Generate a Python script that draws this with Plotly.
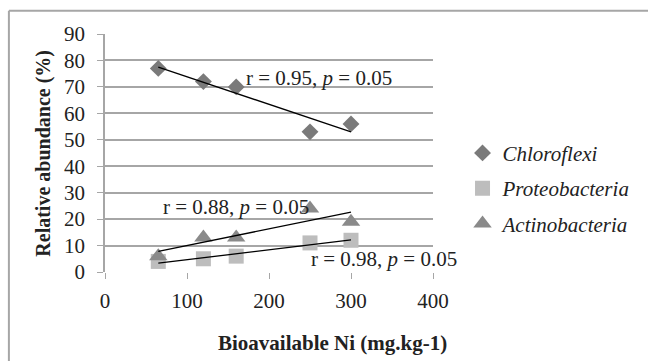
import numpy as np
import plotly.graph_objects as go

ni = [65, 120, 160, 250, 300]
chloroflexi = [77, 72, 70, 53, 56]
proteobacteria = [4, 5, 6, 11, 12]
actinobacteria = [6, 13, 13, 24, 19]
series_names = ["Chloroflexi", "Proteobacteria", "Actinobacteria"]
r_labels = ["r = 0.95, <i>p</i> = 0.05", "r = 0.88, <i>p</i> = 0.05", "r = 0.98, <i>p</i> = 0.05"]
x_ticks = [0, 100, 200, 300, 400]
y_ticks = [0, 10, 20, 30, 40, 50, 60, 70, 80, 90]

FONT = "Liberation Serif"
styles = [
    dict(symbol="diamond", color="#7a7a7a", size=13),
    dict(symbol="square", color="#bdbdbd", size=15),
    dict(symbol="triangle-up", color="#8a8a8a", size=16),
]

fig = go.Figure()
series = [chloroflexi, proteobacteria, actinobacteria]
for i, (name, ys) in enumerate(zip(series_names, series)):
    st = styles[i]
    fig.add_trace(go.Scatter(
        x=ni, y=ys, mode="markers", name=f"<i>{name}</i>",
        legendgroup=name,
        marker=dict(symbol=st["symbol"], color=st["color"], size=st["size"], line=dict(width=0)),
    ))

for i, ys in enumerate(series):
    k, b = np.polyfit(ni, ys, 1)
    xs = [min(ni), max(ni)]
    fig.add_trace(go.Scatter(
        x=xs, y=[k * v + b for v in xs], mode="lines", showlegend=False,
        line=dict(color="black", width=1.3), hoverinfo="skip",
    ))

ann_pos = [(170, 73.5), (68, 24.6), (249, 4.9)]
for txt, (ax, ay) in zip(r_labels, ann_pos):
    fig.add_annotation(x=ax, y=ay, text=txt, showarrow=False, xanchor="left", yanchor="middle",
                       font=dict(family=FONT, size=21, color="#222"))

fig.add_annotation(xref="paper", yref="paper", x=0.695, y=-0.30, text="<b>Bioavailable Ni (mg.kg-1)</b>",
                   showarrow=False, xanchor="center", yanchor="middle",
                   font=dict(family=FONT, size=21, color="#222"))
fig.add_annotation(xref="paper", yref="paper", x=-0.19, y=0.5, text="<b>Relative abundance (%)</b>",
                   showarrow=False, textangle=-90, xanchor="center", yanchor="middle",
                   font=dict(family=FONT, size=20, color="#222"))

# outer frame
fig.add_shape(type="line", xref="paper", yref="paper", x0=-0.293, x1=1.7, y0=1.0975, y1=1.0975,
              line=dict(color="#a6a6a6", width=2))
fig.add_shape(type="line", xref="paper", yref="paper", x0=-0.293, x1=-0.293, y0=1.0975, y1=-0.5,
              line=dict(color="#a6a6a6", width=2))

fig.update_xaxes(range=[0, 400], tickvals=x_ticks, showgrid=False, showline=False, zeroline=False,
                 ticks="outside", ticklen=6, tickcolor="#a6a6a6", ticklabelstandoff=4,
                 tickfont=dict(family=FONT, size=21, color="#222"))
fig.update_yaxes(range=[0, 90], tickvals=y_ticks, showgrid=True, gridcolor="#a6a6a6", gridwidth=1.5,
                 showline=True, linecolor="#a6a6a6", linewidth=1.5, zeroline=False,
                 ticks="outside", ticklen=6, tickcolor="#a6a6a6", ticklabelstandoff=8,
                 tickfont=dict(family=FONT, size=21, color="#222"))

fig.update_layout(
    width=648, height=361,
    margin=dict(l=105, r=209, t=34, b=89),
    plot_bgcolor="white", paper_bgcolor="white",
    showlegend=True,
    legend=dict(x=1.09, y=0.585, xanchor="left", yanchor="top", traceorder="grouped",
                tracegroupgap=5, font=dict(family=FONT, size=21, color="#222"),
                itemwidth=30, bgcolor="rgba(0,0,0,0)"),
)

fig.write_html("out.html")
